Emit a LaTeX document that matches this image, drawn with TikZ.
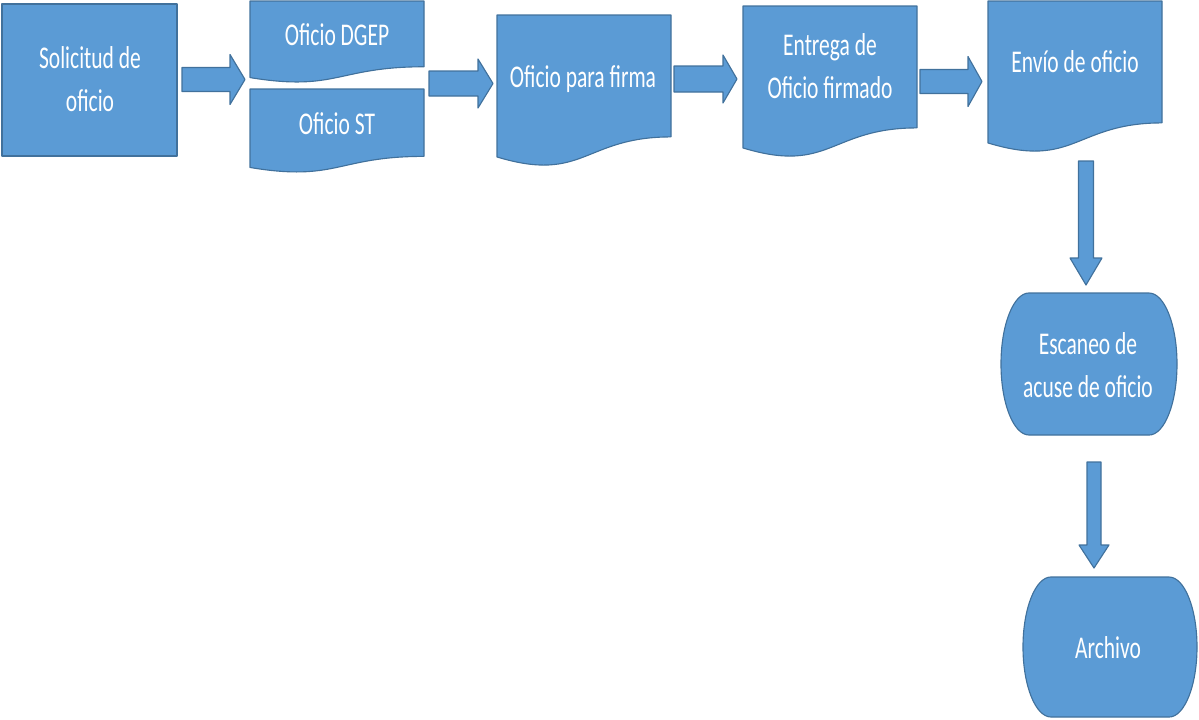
\documentclass[tikz,border=0pt]{standalone}
\usepackage{fontspec}
\setmainfont{Carlito}
\usepackage{graphicx}
\definecolor{boxfill}{HTML}{5B9BD5}
\definecolor{boxline}{HTML}{41719C}
\tikzset{
  flowshape/.style={fill=boxfill, draw=boxline, line width=0.8pt, line join=round},
  flowtext/.style={text=white, font=\fontsize{22.5}{30.6}\selectfont, align=center, inner sep=0pt}
}
% condensed text as set in the boxes
\newcommand\cond[1]{\scalebox{0.68}[1]{\begin{tabular}{@{}c@{}}#1\end{tabular}}}
% document shape: left x, top y, right x, full height
\newcommand\docpath[4]{%
  \draw[flowshape] (#1,#2) -- (#3,#2) -- (#3,{#2+0.802*#4})
    .. controls ({(#1+#3)/2},{#2+0.802*#4}) and ({(#1+#3)/2},{#2+1.1075*#4}) ..
    (#1,{#2+0.934*#4}) -- cycle;}
% block arrow pointing right: tail x, head base x, tip x, mid y, body half, head half
\newcommand\rarrow[6]{%
  \draw[flowshape] (#1,{#4-#5}) -- (#2,{#4-#5}) -- (#2,{#4-#6}) -- (#3,#4)
    -- (#2,{#4+#6}) -- (#2,{#4+#5}) -- (#1,{#4+#5}) -- cycle;}
% block arrow pointing down: mid x, tail y, head base y, tip y, body half, head half
\newcommand\darrow[6]{%
  \draw[flowshape] ({#1-#5},#2) -- ({#1+#5},#2) -- ({#1+#5},#3) -- ({#1+#6},#3)
    -- (#1,#4) -- ({#1-#6},#3) -- ({#1-#5},#3) -- cycle;}
\begin{document}
\begin{tikzpicture}[x=0.025cm, y=-0.025cm]
\useasboundingbox (0,0) rectangle (1199,719);

% process boxes
\draw[flowshape] (2,4) rectangle (177,156);
\node[flowtext] (solicitud) at (90,81.5) {\cond{Solicitud de\\oficio}};

\docpath{250}{1}{424}{82}
\node[flowtext] (dgep) at (337,37) {\cond{Oficio DGEP}};

\docpath{250}{89}{424}{84}
\node[flowtext] (st) at (337,126) {\cond{Oficio ST}};

\docpath{497}{15}{671}{152}
\node[flowtext] (firma) at (583,79) {\cond{Oficio para firma}};

\docpath{743}{6}{917}{152}
\node[flowtext] (entrega) at (830,68.5) {\cond{Entrega de\\Oficio firmado}};

\docpath{988}{1}{1162}{152}
\node[flowtext] (envio) at (1075,64) {\cond{Envío de oficio}};

% terminal shapes
\draw[flowshape] (1029,293) -- (1149,293)
  arc[start angle=90, end angle=-90, x radius=0.7cm, y radius=1.775cm]
  -- (1029,435)
  arc[start angle=270, end angle=90, x radius=0.7cm, y radius=1.775cm] -- cycle;
\node[flowtext] (escaneo) at (1088,367.5) {\cond{Escaneo de\\acuse de oficio}};

\draw[flowshape] (1051,577) -- (1169,577)
  arc[start angle=90, end angle=-90, x radius=0.7cm, y radius=1.75cm]
  -- (1051,717)
  arc[start angle=270, end angle=90, x radius=0.7cm, y radius=1.75cm] -- cycle;
\node[flowtext] (archivo) at (1108,650) {\cond{Archivo}};

% flow arrows
\rarrow{182}{230}{245}{79.5}{12}{25}
\rarrow{429}{478}{493}{83.5}{12.5}{24.5}
\rarrow{674}{723}{737}{79}{13}{24}
\rarrow{920}{968}{982}{81.5}{12}{25}
\darrow{1086}{161}{258}{285}{7.5}{16}
\darrow{1094}{462}{545}{568}{7}{15}
\end{tikzpicture}
\end{document}
